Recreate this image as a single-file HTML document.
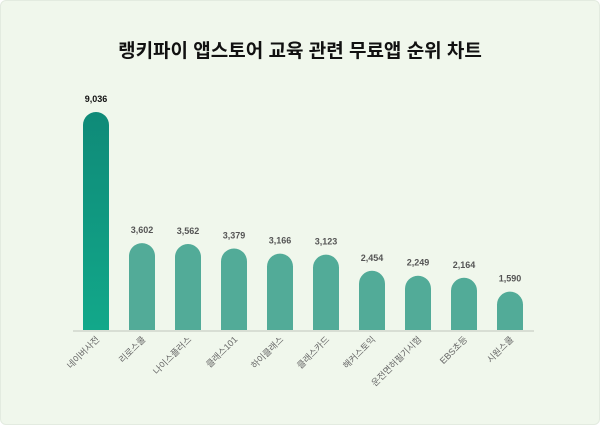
<!DOCTYPE html>
<html><head><meta charset="utf-8"><style>
body{margin:0;width:600px;height:425px;background:#fff;font-family:"Liberation Sans","Noto Sans CJK KR",sans-serif;}
.card{position:absolute;left:0;top:0;width:598px;height:423px;border:1px solid #e3ebe0;border-radius:6px;background:#f0f7ec;}
</style></head><body><div class="card"></div>
<svg width="600" height="425" style="position:absolute;left:0;top:0" font-family="Liberation Sans, Noto Sans CJK KR, sans-serif">
<defs>
<linearGradient id="g1" x1="0" y1="0" x2="0" y2="1"><stop offset="0" stop-color="#0f8a78"/><stop offset="1" stop-color="#12a88a"/></linearGradient>
</defs>
<text x="300" y="57" text-anchor="middle" font-size="19" font-weight="bold" fill="#111">랭키파이 앱스토어 교육 관련 무료앱 순위 차트</text>
<line x1="73" y1="331" x2="534" y2="331" stroke="#cfd6cc" stroke-width="1.5"/>
<g id="bars"></g>
</svg>
<script>
var d=[["네이버사전",9036],["리로스쿨",3602],["나이스플러스",3562],["클래스101",3379],["하이클래스",3166],["클래스카드",3123],["해커스토익",2454],["운전면허필기시험",2249],["EBS초등",2164],["시원스쿨",1590]];
var g=document.getElementById("bars"),s="";
d.forEach(function(e,i){var cx=96+i*46,h=e[1]*0.02413,top=330-h,w=26;
s+='<path d="M'+(cx-13)+' 330 V'+(top+13)+' A13 13 0 0 1 '+(cx+13)+' '+(top+13)+' V330 Z" fill="'+(i==0?'url(#g1)':'#52ab98')+'"/>';
s+='<text x="'+cx+'" y="'+(top-10)+'" text-anchor="middle" font-size="9" font-weight="bold" fill="'+(i==0?'#111':'#555')+'">'+e[1].toLocaleString('en-US')+'</text>';
s+='<text transform="translate('+(cx+4)+',340) rotate(-45)" text-anchor="end" font-size="9" fill="#666">'+e[0]+'</text>';});
g.innerHTML=s;
</script>
</body></html>
